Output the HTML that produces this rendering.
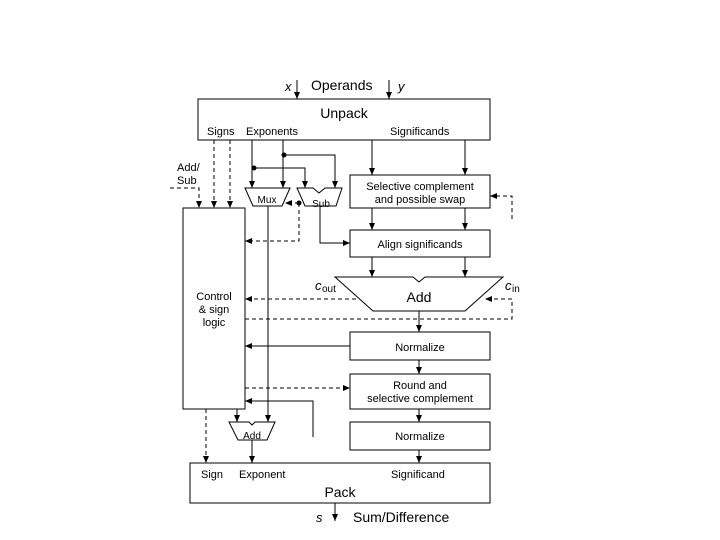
<!DOCTYPE html>
<html><head><style>body{margin:0;background:#fff}svg{display:block}text{font-family:"Liberation Sans",sans-serif;fill:#000}</style></head><body>
<svg width="720" height="540" xmlns="http://www.w3.org/2000/svg">
<defs><marker id="a" markerWidth="8" markerHeight="8" refX="7" refY="4" orient="auto" markerUnits="userSpaceOnUse"><path d="M0,1 L7,4 L0,7z" fill="#000"/></marker></defs>
<g stroke="#000" stroke-width="1" fill="none">
<rect x="198" y="99" width="292" height="41"/>
<rect x="183" y="208" width="62" height="201"/>
<rect x="350" y="175" width="140" height="33"/>
<rect x="350" y="230" width="140" height="27"/>
<rect x="350" y="332" width="140" height="28"/>
<rect x="350" y="374" width="140" height="35"/>
<rect x="350" y="422" width="140" height="28"/>
<rect x="190" y="463" width="300" height="40"/>
<path d="M245,188 L290,188 L282,206 L253,206Z"/>
<path d="M297,188 L313,188 L319,193 L325,188 L342,188 L336,206 L305,206Z"/>
<path d="M335,277 L413,277 L419,282 L425,277 L503,277 L465,311 L373,311Z"/>
<path d="M229,422 L249,422 L252,425 L255,422 L275,422 L267,440 L238,440Z"/>
<g marker-end="url(#a)">
<path d="M297,80 V99"/><path d="M389,80 V99"/>
<path d="M252,140 V188"/><path d="M283,140 V188"/>
<path d="M254,168 H305 V188"/><path d="M284,155 H335 V188"/>
<path d="M372,140 V175"/><path d="M465,140 V175"/>
<path d="M372,208 V230"/><path d="M465,208 V230"/>
<path d="M320,206 V243 H350"/>
<path d="M372,257 V277"/><path d="M465,257 V277"/>
<path d="M419,311 V332"/><path d="M419,360 V374"/><path d="M419,409 V422"/><path d="M419,450 V463"/>
<path d="M350,346 H245"/>
<path d="M313,437 V401 H245"/>
<path d="M268,206 V422"/><path d="M237,409 V422"/>
<path d="M252,440 V463"/>
<path d="M335,503 V521"/>
</g>
<g stroke-dasharray="4,3" marker-end="url(#a)">
<path d="M214,140 V208"/><path d="M230,140 V208"/>
<path d="M170,188 H199 V208"/>
<path d="M299,203 H285"/>
<path d="M299,203 V241 H245"/>
<path d="M512,219 V196 H490"/>
<path d="M356,299 H245"/>
<path d="M245,388 H350"/>
<path d="M206,409 V463"/>
<path d="M245,319 H512 V299 H485"/>
</g>
</g>
<circle cx="254" cy="168" r="2.5"/><circle cx="284" cy="155" r="2.5"/><circle cx="299" cy="203" r="2.5"/>
<text x="285" y="91" font-size="13" font-style="italic">x</text>
<text x="311" y="90" font-size="14">Operands</text>
<text x="398" y="91" font-size="13" font-style="italic">y</text>
<text x="344" y="118" font-size="14" text-anchor="middle">Unpack</text>
<text x="207" y="135" font-size="11">Signs</text>
<text x="246" y="135" font-size="11">Exponents</text>
<text x="390" y="135" font-size="11">Significands</text>
<text x="177" y="171" font-size="11">Add/</text>
<text x="177" y="184" font-size="11">Sub</text>
<text x="267" y="203" font-size="10" text-anchor="middle">Mux</text>
<text x="321" y="207" font-size="10" text-anchor="middle">Sub</text>
<text x="420" y="190" font-size="11" text-anchor="middle">Selective complement</text>
<text x="420" y="203" font-size="11" text-anchor="middle">and possible swap</text>
<text x="420" y="248" font-size="11" text-anchor="middle">Align significands</text>
<text x="214" y="300" font-size="11" text-anchor="middle">Control</text>
<text x="214" y="313" font-size="11" text-anchor="middle">&amp; sign</text>
<text x="214" y="326" font-size="11" text-anchor="middle">logic</text>
<text x="315" y="290" font-size="13" font-style="italic">c</text><text x="322" y="292" font-size="10">out</text>
<text x="505" y="290" font-size="13" font-style="italic">c</text><text x="512" y="292" font-size="10">in</text>
<text x="419" y="302" font-size="14" text-anchor="middle">Add</text>
<text x="420" y="351" font-size="11" text-anchor="middle">Normalize</text>
<text x="420" y="389" font-size="11" text-anchor="middle">Round and</text>
<text x="420" y="402" font-size="11" text-anchor="middle">selective complement</text>
<text x="420" y="440" font-size="11" text-anchor="middle">Normalize</text>
<text x="252" y="439" font-size="10" text-anchor="middle">Add</text>
<text x="201" y="478" font-size="11">Sign</text>
<text x="239" y="478" font-size="11">Exponent</text>
<text x="391" y="478" font-size="11">Significand</text>
<text x="340" y="497" font-size="14" text-anchor="middle">Pack</text>
<text x="316" y="522" font-size="13" font-style="italic">s</text>
<text x="353" y="522" font-size="14">Sum/Difference</text>
</svg>
</body></html>
